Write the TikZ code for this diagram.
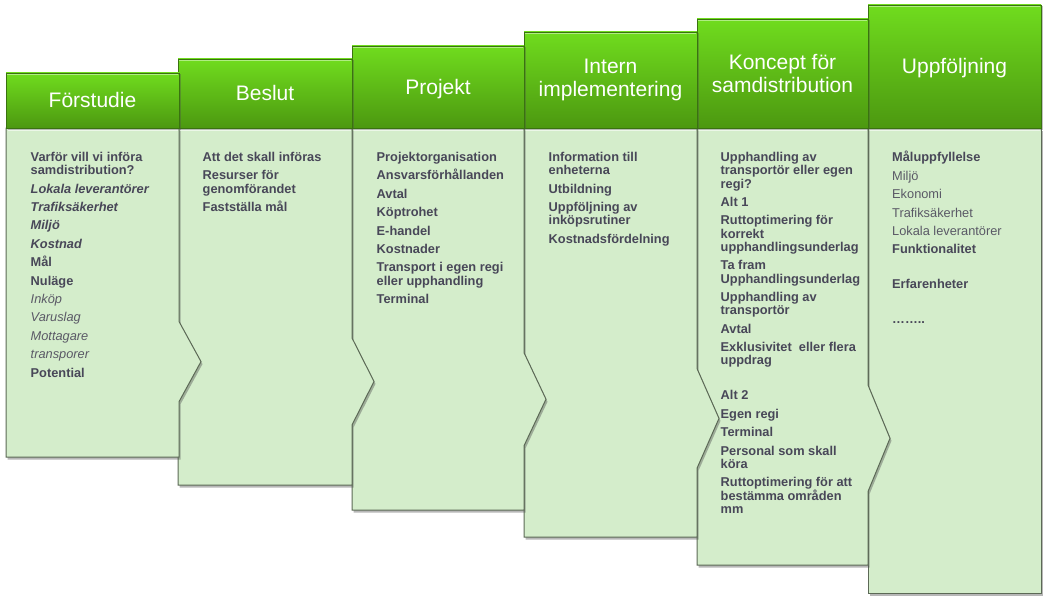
\documentclass[tikz,border=0pt]{standalone}
\usepackage{fontspec}
\setmainfont{Liberation Sans}
\usetikzlibrary{shadows}
\definecolor{hdrtop}{HTML}{70DC1E}
\definecolor{hdrbot}{HTML}{4C9810}
\definecolor{hdrline}{HTML}{3A7210}
\definecolor{bodyfill}{HTML}{D4EDCB}
\definecolor{bodyline}{HTML}{5C6956}
\definecolor{txt}{HTML}{484758}
\definecolor{txtlight}{HTML}{5A5966}
\newcommand\itemfont{\fontsize{12.8}{13.3}\selectfont\bfseries}
\newcommand\colbody[4]{%
  \pgfmathsetmacro\cmid{128+0.71*(#4-128)}%
  \pgfmathsetmacro\chalf{0.122*(#4-128)}%
  \path[bodyshape] (#1,128) -- (#2,128) -- (#2,\cmid-\chalf) -- (#2+22,\cmid) -- (#2,\cmid+\chalf) -- (#2,#4) -- (#1,#4) -- cycle;
  \draw[bevel] (#1+1.5,130) -- (#2-1.5,130);
}
\newcommand\colbodyflat[4]{%
  \path[bodyshape] (#1,128) rectangle (#2,#4);
  \draw[bevel] (#1+1.5,130) -- (#2-1.5,130);
}
\newcommand\colhead[3]{%
  \path[hdrshape] (#1,#3) rectangle (#2,128);
  \draw[hdrhi] (#1+1,#3+1) -- (#2-1,#3+1);
}
\begin{document}
\lineskiplimit=-50pt
\begin{tikzpicture}[x=1pt,y=-1pt,
  bodyshape/.style={fill=bodyfill, draw=bodyline, line width=1pt, line join=miter,
    drop shadow={shadow xshift=1.5pt, shadow yshift=-2.5pt, opacity=0.4, fill=black!70}},
  hdrshape/.style={top color=hdrtop, bottom color=hdrbot, draw=hdrline, line width=0.7pt,
    drop shadow={shadow xshift=1.5pt, shadow yshift=-1.5pt, opacity=0.35, fill=black!70}},
  bevel/.style={draw=white!55!bodyfill, line width=1.5pt},
  hdrhi/.style={draw=hdrtop!55!white, line width=0.8pt},
  hdrtext/.style={text=white, font=\fontsize{21}{23.3}\selectfont, align=center, inner sep=0pt},
  hdrone/.style={hdrtext, text height=14pt, text depth=0pt},
  itemtext/.style={text=txt, font=\itemfont, align=left, inner sep=0pt, anchor=north west}
]
\useasboundingbox (0,0) rectangle (1044,602);
\fill[white] (0,0) rectangle (1044,602);

% column 6
\colbodyflat{868}{1041}{5}{593}
\colhead{868}{1041}{5}
% column 5
\colbody{697}{868}{19}{565}
\colhead{697}{868}{19}
% column 4
\colbody{524}{697}{32}{537}
\colhead{524}{697}{32}
% column 3
\colbody{352}{524}{46}{510}
\colhead{352}{524}{46}
% column 2
\colbody{178}{352}{59}{485}
\colhead{178}{352}{59}
% column 1
\colbody{6}{179}{73}{457}
\colhead{6}{179}{73}

% headers
\node[hdrone] (h1) at (92.5,100.5) {Förstudie};
\node[hdrone] (h2) at (265,93.5) {Beslut};
\node[hdrone] (h3) at (438,87) {Projekt};
\node[hdrtext] (h4) at (610.5,80) {Intern\\implementering};
\node[hdrtext] (h5) at (782.5,73.5) {Koncept för\\samdistribution};
\node[hdrone] (h6) at (954.5,66.5) {Uppföljning};

% bodies
\node[itemtext] (t1) at (30.5,151.2) {\rule{0pt}{10pt}Varför vill vi införa\\samdistribution?\\[5.1pt]
\textit{Lokala leverantörer}\\[5.1pt]
\textit{Trafiksäkerhet}\\[5.1pt]
\textit{Miljö}\\[5.1pt]
\textit{Kostnad}\\[5.1pt]
Mål\\[5.1pt]
Nuläge\\[5.1pt]
{\mdseries\itshape\color{txtlight}Inköp}\\[5.1pt]
{\mdseries\itshape\color{txtlight}Varuslag}\\[5.1pt]
{\mdseries\itshape\color{txtlight}Mottagare}\\[5.1pt]
{\mdseries\itshape\color{txtlight}transporer}\\[5.1pt]
Potential};

\node[itemtext] (t2) at (202.5,151.2) {\rule{0pt}{10pt}Att det skall införas\\[5.1pt]
Resurser för\\genomförandet\\[5.1pt]
Fastställa mål};

\node[itemtext] (t3) at (376.5,151.2) {\rule{0pt}{10pt}Projektorganisation\\[5.1pt]
Ansvarsförhållanden\\[5.1pt]
Avtal\\[5.1pt]
Köptrohet\\[5.1pt]
E-handel\\[5.1pt]
Kostnader\\[5.1pt]
Transport i egen regi\\eller upphandling\\[5.1pt]
Terminal};

\node[itemtext] (t4) at (548.5,151.2) {\rule{0pt}{10pt}Information till\\enheterna\\[5.1pt]
Utbildning\\[5.1pt]
Uppföljning av\\inköpsrutiner\\[5.1pt]
Kostnadsfördelning};

\node[itemtext] (t5) at (720.5,151.2) {\rule{0pt}{10pt}Upphandling av\\transportör eller egen\\regi?\\[5.1pt]
Alt 1\\[5.1pt]
Ruttoptimering för\\korrekt\\upphandlingsunderlag\\[5.1pt]
Ta fram\\Upphandlingsunderlag\\[5.1pt]
Upphandling av\\transportör\\[5.1pt]
Avtal\\[5.1pt]
Exklusivitet~ eller flera\\uppdrag\\[21.7pt]
Alt 2\\[5.1pt]
Egen regi\\[5.1pt]
Terminal\\[5.1pt]
Personal som skall\\köra\\[5.1pt]
Ruttoptimering för att\\bestämma områden\\mm};

\node[itemtext] (t6) at (892,151.2) {\rule{0pt}{10pt}Måluppfyllelse\\[5.1pt]
{\mdseries\color{txtlight}Miljö}\\[5.1pt]
{\mdseries\color{txtlight}Ekonomi}\\[5.1pt]
{\mdseries\color{txtlight}Trafiksäkerhet}\\[5.1pt]
{\mdseries\color{txtlight}Lokala leverantörer}\\[5.1pt]
Funktionalitet\\[21.7pt]
Erfarenheter\\[21.7pt]
……..};
\end{tikzpicture}
\end{document}
